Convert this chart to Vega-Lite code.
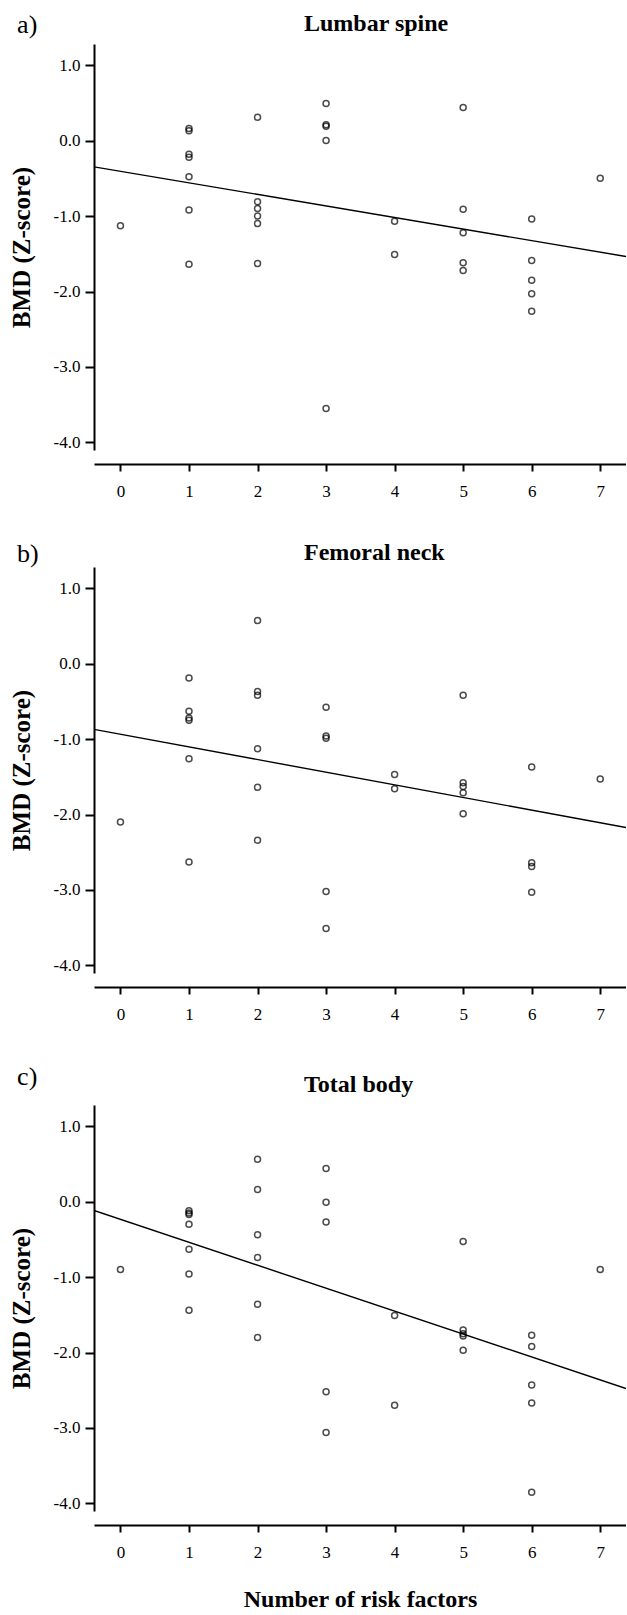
{
  "$schema": "https://vega.github.io/schema/vega-lite/v6.json",
  "background": "white",
  "padding": {"left": 9, "top": 12, "right": 0, "bottom": 0},
  "config": {
    "font": "Liberation Serif",
    "view": {"stroke": null},
    "concat": {"spacing": 42},
    "axis": {
      "grid": false,
      "labelFont": "Liberation Serif",
      "labelFontSize": 17,
      "labelColor": "black",
      "domainColor": "black",
      "tickColor": "black",
      "titleFont": "Liberation Serif",
      "titleFontWeight": "bold",
      "titleColor": "black"
    },
    "title": {"font": "Liberation Serif", "color": "black"}
  },
  "datasets": {
    "lumbar": [
      {"risk": 0, "z": -1.13},
      {"risk": 1, "z": 0.16}, {"risk": 1, "z": 0.13}, {"risk": 1, "z": -0.18}, {"risk": 1, "z": -0.22}, {"risk": 1, "z": -0.48}, {"risk": 1, "z": -0.92}, {"risk": 1, "z": -1.64},
      {"risk": 2, "z": 0.31}, {"risk": 2, "z": -0.81}, {"risk": 2, "z": -0.90}, {"risk": 2, "z": -1.00}, {"risk": 2, "z": -1.10}, {"risk": 2, "z": -1.63},
      {"risk": 3, "z": 0.49}, {"risk": 3, "z": 0.21}, {"risk": 3, "z": 0.19}, {"risk": 3, "z": 0.00}, {"risk": 3, "z": -3.55},
      {"risk": 4, "z": -1.07}, {"risk": 4, "z": -1.51},
      {"risk": 5, "z": 0.44}, {"risk": 5, "z": -0.91}, {"risk": 5, "z": -1.22}, {"risk": 5, "z": -1.62}, {"risk": 5, "z": -1.72},
      {"risk": 6, "z": -1.04}, {"risk": 6, "z": -1.59}, {"risk": 6, "z": -1.85}, {"risk": 6, "z": -2.03}, {"risk": 6, "z": -2.26},
      {"risk": 7, "z": -0.50}
    ],
    "lumbarFit": [{"risk": -0.386, "z": -0.348}, {"risk": 7.376, "z": -1.536}],
    "femoral": [
      {"risk": 0, "z": -2.10},
      {"risk": 1, "z": -0.19}, {"risk": 1, "z": -0.63}, {"risk": 1, "z": -0.72}, {"risk": 1, "z": -0.75}, {"risk": 1, "z": -1.26}, {"risk": 1, "z": -2.63},
      {"risk": 2, "z": 0.57}, {"risk": 2, "z": -0.37}, {"risk": 2, "z": -0.42}, {"risk": 2, "z": -1.13}, {"risk": 2, "z": -1.64}, {"risk": 2, "z": -2.34},
      {"risk": 3, "z": -0.58}, {"risk": 3, "z": -0.96}, {"risk": 3, "z": -0.99}, {"risk": 3, "z": -3.02}, {"risk": 3, "z": -3.51},
      {"risk": 4, "z": -1.47}, {"risk": 4, "z": -1.66},
      {"risk": 5, "z": -0.42}, {"risk": 5, "z": -1.58}, {"risk": 5, "z": -1.63}, {"risk": 5, "z": -1.71}, {"risk": 5, "z": -1.99},
      {"risk": 6, "z": -1.37}, {"risk": 6, "z": -2.64}, {"risk": 6, "z": -2.69}, {"risk": 6, "z": -3.03},
      {"risk": 7, "z": -1.53}
    ],
    "femoralFit": [{"risk": -0.386, "z": -0.872}, {"risk": 7.376, "z": -2.172}],
    "total": [
      {"risk": 0, "z": -0.90},
      {"risk": 1, "z": -0.12}, {"risk": 1, "z": -0.15}, {"risk": 1, "z": -0.17}, {"risk": 1, "z": -0.30}, {"risk": 1, "z": -0.63}, {"risk": 1, "z": -0.96}, {"risk": 1, "z": -1.44},
      {"risk": 2, "z": 0.56}, {"risk": 2, "z": 0.16}, {"risk": 2, "z": -0.44}, {"risk": 2, "z": -0.74}, {"risk": 2, "z": -1.36}, {"risk": 2, "z": -1.80},
      {"risk": 3, "z": 0.44}, {"risk": 3, "z": -0.01}, {"risk": 3, "z": -0.27}, {"risk": 3, "z": -2.52}, {"risk": 3, "z": -3.06},
      {"risk": 4, "z": -1.51}, {"risk": 4, "z": -2.70},
      {"risk": 5, "z": -0.53}, {"risk": 5, "z": -1.70}, {"risk": 5, "z": -1.75}, {"risk": 5, "z": -1.78}, {"risk": 5, "z": -1.97},
      {"risk": 6, "z": -1.77}, {"risk": 6, "z": -1.92}, {"risk": 6, "z": -2.43}, {"risk": 6, "z": -2.67}, {"risk": 6, "z": -3.85},
      {"risk": 7, "z": -0.90}
    ],
    "totalFit": [{"risk": -0.386, "z": -0.118}, {"risk": 7.376, "z": -2.478}]
  },
  "vconcat": [
    {
      "title": {"text": "a)", "anchor": "start", "frame": "bounds", "fontSize": 26, "fontWeight": "normal", "offset": -26, "dx": 8},
      "vconcat": [
        {
          "title": {"text": "Lumbar spine", "anchor": "start", "frame": "group", "dx": 210, "fontSize": 24, "fontWeight": "bold", "offset": 8},
          "width": 532,
          "height": 406,
          "encoding": {
            "x": {"field": "risk", "type": "quantitative", "scale": {"domain": [-0.386, 7.376], "nice": false, "zero": false},
                  "axis": {"values": [0, 1, 2, 3, 4, 5, 6, 7], "format": "d", "title": null, "offset": 14, "tickSize": 7, "tickWidth": 2, "domainWidth": 2, "labelPadding": 12, "labelFlush": false}},
            "y": {"field": "z", "type": "quantitative", "scale": {"domain": [-4.1, 1.28], "nice": false, "zero": false},
                  "axis": {"values": [-4, -3, -2, -1, 0, 1], "labelExpr": "datum.value < 0 ? '-' + format(-datum.value, '.1f') : format(datum.value, '.1f')", "title": "BMD (Z-score)", "titleFontSize": 25, "tickSize": 9, "tickWidth": 2, "domainWidth": 2, "labelPadding": 5, "titlePadding": 19}}
          },
          "layer": [
            {"data": {"name": "lumbar"}, "mark": {"type": "point", "shape": "circle", "filled": false, "color": "black", "size": 36, "strokeWidth": 1.5}},
            {"data": {"name": "lumbarFit"}, "mark": {"type": "line", "color": "black", "strokeWidth": 1.4, "clip": true}}
          ]
        }
      ]
    },
    {
      "title": {"text": "b)", "anchor": "start", "frame": "bounds", "fontSize": 26, "fontWeight": "normal", "offset": -26, "dx": 8},
      "vconcat": [
        {
          "title": {"text": "Femoral neck", "anchor": "start", "frame": "group", "dx": 210, "fontSize": 24, "fontWeight": "bold", "offset": 2},
          "width": 532,
          "height": 406,
          "encoding": {
            "x": {"field": "risk", "type": "quantitative", "scale": {"domain": [-0.386, 7.376], "nice": false, "zero": false},
                  "axis": {"values": [0, 1, 2, 3, 4, 5, 6, 7], "format": "d", "title": null, "offset": 14, "tickSize": 7, "tickWidth": 2, "domainWidth": 2, "labelPadding": 12, "labelFlush": false}},
            "y": {"field": "z", "type": "quantitative", "scale": {"domain": [-4.1, 1.28], "nice": false, "zero": false},
                  "axis": {"values": [-4, -3, -2, -1, 0, 1], "labelExpr": "datum.value < 0 ? '-' + format(-datum.value, '.1f') : format(datum.value, '.1f')", "title": "BMD (Z-score)", "titleFontSize": 25, "tickSize": 9, "tickWidth": 2, "domainWidth": 2, "labelPadding": 5, "titlePadding": 19}}
          },
          "layer": [
            {"data": {"name": "femoral"}, "mark": {"type": "point", "shape": "circle", "filled": false, "color": "black", "size": 36, "strokeWidth": 1.5}},
            {"data": {"name": "femoralFit"}, "mark": {"type": "line", "color": "black", "strokeWidth": 1.4, "clip": true}}
          ]
        }
      ]
    },
    {
      "title": {"text": "c)", "anchor": "start", "frame": "bounds", "fontSize": 26, "fontWeight": "normal", "offset": -17, "dx": 8},
      "vconcat": [
        {
          "title": {"text": "Total body", "anchor": "start", "frame": "group", "dx": 210, "fontSize": 24, "fontWeight": "bold", "offset": 8},
          "width": 532,
          "height": 406,
          "encoding": {
            "x": {"field": "risk", "type": "quantitative", "scale": {"domain": [-0.386, 7.376], "nice": false, "zero": false},
                  "axis": {"values": [0, 1, 2, 3, 4, 5, 6, 7], "format": "d", "title": "Number of risk factors", "titleFontSize": 24, "titlePadding": 27, "offset": 14, "tickSize": 7, "tickWidth": 2, "domainWidth": 2, "labelPadding": 12, "labelFlush": false}},
            "y": {"field": "z", "type": "quantitative", "scale": {"domain": [-4.1, 1.28], "nice": false, "zero": false},
                  "axis": {"values": [-4, -3, -2, -1, 0, 1], "labelExpr": "datum.value < 0 ? '-' + format(-datum.value, '.1f') : format(datum.value, '.1f')", "title": "BMD (Z-score)", "titleFontSize": 25, "tickSize": 9, "tickWidth": 2, "domainWidth": 2, "labelPadding": 5, "titlePadding": 19}}
          },
          "layer": [
            {"data": {"name": "total"}, "mark": {"type": "point", "shape": "circle", "filled": false, "color": "black", "size": 36, "strokeWidth": 1.5}},
            {"data": {"name": "totalFit"}, "mark": {"type": "line", "color": "black", "strokeWidth": 1.4, "clip": true}}
          ]
        }
      ]
    }
  ]
}
